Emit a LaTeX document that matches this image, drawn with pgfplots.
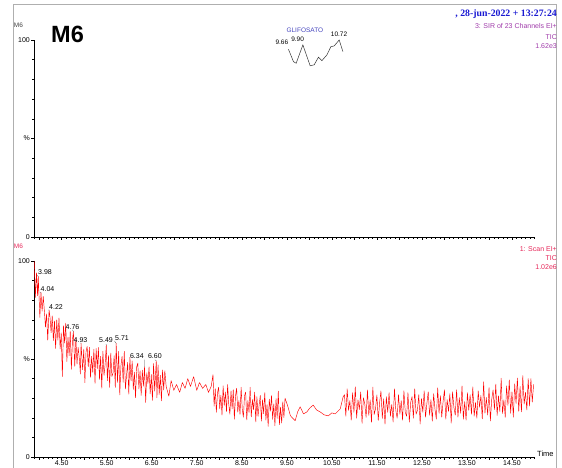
\documentclass[border=0pt]{standalone}
\usepackage{fontspec}
\setmainfont{Liberation Sans}
\newfontfamily\serifbf{Liberation Serif}
\usepackage{pgfplots}
\usepackage{pgfplotstable}
\pgfplotsset{compat=1.18}
\definecolor{datecol}{RGB}{25,25,210}
\definecolor{sircol}{RGB}{160,60,170}
\definecolor{scancol}{RGB}{230,40,90}
\definecolor{glicol}{RGB}{70,70,190}
\definecolor{framecol}{RGB}{175,175,175}

\pgfplotstableread{
t y
9.536 95.3
9.647 89.0
9.707 88.2
9.856 97.5
10.018 86.9
10.107 87.4
10.203 91.3
10.278 89.5
10.389 92.4
10.478 96.6
10.552 97.0
10.663 100
10.745 94.1
}\sirdata

\pgfplotstableread{
t y
3.890 100
3.915 81.4
3.940 94
3.965 82.2
3.980 92
4.015 71.2
4.040 84
4.065 74.4
4.090 82
4.115 74.7
4.140 66.3
4.165 73
4.190 59.6
4.220 75
4.240 71.4
4.265 63.4
4.290 72
4.315 59.4
4.340 69.4
4.365 55.4
4.390 70
4.415 59.6
4.440 71
4.465 55.1
4.490 63.3
4.515 41
4.540 67
4.565 58.1
4.590 68.3
4.615 48.7
4.640 61.2
4.665 51.7
4.690 64.2
4.715 44.7
4.740 60
4.760 64
4.790 46.2
4.815 60.8
4.840 47.4
4.865 56
4.890 50.6
4.915 42.3
4.930 58
4.965 44.5
4.990 55
5.015 37.9
5.040 53.6
5.065 56.4
5.090 46.1
5.115 56
5.140 40.6
5.165 51.4
5.190 43.1
5.215 55
5.240 37.6
5.265 55.4
5.290 45.1
5.315 55.9
5.340 39.6
5.365 51.4
5.390 35.1
5.415 54
5.440 41.6
5.465 47.4
5.490 57
5.515 38.9
5.540 51.7
5.565 35.5
5.590 53
5.615 41.1
5.640 42.9
5.665 51.7
5.690 35.5
5.710 58
5.740 38.1
5.765 53.9
5.790 31.7
5.815 46.5
5.840 51.3
5.865 38.1
5.890 53.9
5.915 34.7
5.940 41.5
5.965 48.3
5.990 32.1
6.015 50.9
6.040 38.8
6.065 49
6.090 34.5
6.115 43.3
6.140 30.2
6.165 46
6.190 47.9
6.215 34.7
6.240 44
6.265 31.4
6.290 44.3
6.315 36.1
6.340 46
6.365 27.8
6.390 43
6.415 37.5
6.440 46
6.465 32.2
6.490 42.1
6.515 28.9
6.540 47.7
6.565 33.6
6.600 49
6.615 30.2
6.640 47
6.665 31.9
6.690 41.7
6.715 28.6
6.740 44.4
6.765 34.2
6.790 44
6.82 36
6.88 31
6.93 39
6.99 34
7.05 37
7.12 33
7.18 38
7.24 35
7.30 40
7.36 36
7.43 41
7.50 34
7.56 38
7.63 35
7.70 37
7.76 33
7.82 36
7.860 42
7.885 25.9
7.910 34.9
7.935 22.8
7.960 32.7
7.985 35.6
8.010 24.6
8.035 31.5
8.060 21.4
8.085 36.3
8.110 26.3
8.135 33.2
8.160 23.1
8.185 37.0
8.210 26.9
8.235 21.8
8.260 33.7
8.285 24.6
8.310 34.4
8.335 19.3
8.360 31.2
8.385 35.1
8.410 22.9
8.435 28.8
8.460 21.7
8.485 35.6
8.510 24.4
8.535 20.3
8.560 31.2
8.585 33.1
8.610 18.9
8.635 28.8
8.660 22.7
8.685 35.6
8.710 20.4
8.735 29.3
8.760 24.2
8.785 33.1
8.810 17.9
8.835 30.8
8.860 20.7
8.885 26.6
8.910 31.4
8.935 18.3
8.960 29.2
8.985 22.1
9.010 32.9
9.035 18.8
9.060 26.7
9.085 15.6
9.110 29.5
9.135 23.4
9.160 31.3
9.185 19.2
9.210 27.1
9.235 15.9
9.260 29.8
9.285 19.7
9.310 33.6
9.335 16.5
9.360 25.4
9.385 17.3
9.410 28.2
9.435 20.1
9.460 30.0
9.52 26
9.58 21
9.685 18.5
9.74 23
9.796 25.6
9.87 22
9.945 23
10.01 25
10.085 26.5
10.16 24
10.24 23
10.33 21.5
10.42 21
10.50 22.5
10.574 22
10.685 24.5
10.75 30.7
10.78 31.8
10.81 20.8
10.84 34.8
10.87 23.8
10.90 28.8
10.93 18.8
10.96 32.8
10.99 22.8
11.02 35.8
11.05 19.8
11.08 29.2
11.11 24.2
11.14 33.2
11.17 17.2
11.20 30.2
11.23 27.2
11.26 20.2
11.29 34.2
11.32 21.2
11.35 29.2
11.38 17.7
11.41 35.7
11.44 21.7
11.47 24.7
11.50 31.7
11.53 18.7
11.56 27.7
11.59 33.7
11.62 19.7
11.65 29.7
11.68 16.8
11.71 30.8
11.74 22.8
11.77 32.8
11.80 20.8
11.83 26.8
11.86 17.8
11.89 34.8
11.92 23.8
11.95 19.8
11.98 31.8
12.01 21.8
12.04 28.8
12.07 18.8
12.10 33.8
12.13 22.8
12.16 20.8
12.19 32.8
12.22 17.8
12.25 27.8
12.28 30.8
12.31 19.8
12.34 34.8
12.37 21.8
12.40 23.8
12.43 31.8
12.46 16.8
12.49 29.8
12.52 22.8
12.55 33.8
12.58 20.3
12.61 27.3
12.64 33.3
12.67 21.3
12.70 29.3
12.73 18.3
12.76 32.3
12.79 24.3
12.82 19.3
12.85 35.3
12.88 22.3
12.91 31.3
12.94 20.3
12.97 28.3
13.00 34.3
13.03 19.3
13.06 29.3
13.09 23.3
13.12 32.3
13.15 17.3
13.18 33.3
13.21 25.3
13.24 21.3
13.27 34.3
13.30 20.3
13.33 30.3
13.36 22.3
13.39 36.3
13.42 19.3
13.45 28.3
13.48 18.8
13.51 32.8
13.54 23.8
13.57 31.8
13.60 21.8
13.63 35.8
13.66 20.8
13.69 27.8
13.72 19.8
13.75 33.8
13.78 25.4
13.81 31.4
13.84 19.4
13.87 38.4
13.90 22.4
13.93 30.4
13.96 21.4
13.99 35.4
14.02 18.4
14.05 29.4
14.08 34.2
14.11 24.2
14.14 37.2
14.17 21.2
14.20 31.2
14.23 23.2
14.26 40.2
14.29 22.2
14.32 29.2
14.35 20.2
14.38 36.3
14.41 26.3
14.44 39.3
14.47 22.3
14.50 33.3
14.53 20.3
14.56 37.3
14.59 27.3
14.62 40.3
14.65 23.3
14.68 36
14.71 23
14.74 41.5
14.77 27
14.80 33
14.83 24
14.86 40
14.89 26
14.92 40
14.95 28
14.98 37
}\ticdata

\pgfplotsset{msax/.style={
  scale only axis, width=500.5pt,
  xmin=3.885, xmax=15.0, ymin=0, ymax=100,
  axis lines=left, axis line style={-, line width=0.5pt},
  tick align=outside, major tick length=3pt, minor tick length=1.8pt,
  tick style={black, line width=0.4pt},
  xtick={4,4.5,5,5.5,6,6.5,7,7.5,8,8.5,9,9.5,10,10.5,11,11.5,12,12.5,13,13.5,14,14.5},
  minor xtick={3.9,4.0,...,15.0},
  ytick={0,50,100}, yticklabels={0,\%,100},
  minor ytick={10,20,30,40,60,70,80,90},
  ticklabel style={font=\fontsize{7}{8}\selectfont},
  yticklabel style={inner sep=1pt},
  xticklabel style={inner sep=0.3pt},
  /pgf/number format/assume math mode=true,
  clip=false,
}}

\begin{document}
\begin{tikzpicture}[x=1pt,y=1pt]
\useasboundingbox (0,0) rectangle (562,468);
\draw[framecol, line width=1pt] (13,-5) -- (13,463) -- (556,463) -- (556,-5);

% top panel
\begin{axis}[msax, at={(34pt,231pt)}, anchor=south west, height=197pt,
  xticklabels={}]
\addplot[black!80, line width=0.5pt] table[x=t,y=y] {\sirdata};
\node[font=\fontsize{6.5}{7}\selectfont, text=glicol] at (axis cs:9.90,105) {GLIFOSATO};
\node[font=\fontsize{6.5}{7}\selectfont, inner sep=0.5pt] at (axis cs:9.39,98.6) {9.66};
\node[font=\fontsize{6.5}{7}\selectfont, inner sep=0.5pt] at (axis cs:9.74,100.4) {9.90};
\node[font=\fontsize{6.5}{7}\selectfont, inner sep=0.5pt] at (axis cs:10.66,102.8) {10.72};
\end{axis}

% bottom panel
\begin{axis}[msax, at={(34pt,11pt)}, anchor=south west, height=196pt,
  xticklabels={{},4.50,{},5.50,{},6.50,{},7.50,{},8.50,{},9.50,{},10.50,{},11.50,{},12.50,{},13.50,{},14.50}]
\addplot[red, line width=0.45pt, line join=round] table[x=t,y=y] {\ticdata};
\begin{scope}[every node/.style={font=\fontsize{7}{8}\selectfont, inner sep=0.6pt}]
\node (a) at (axis cs:4.13,94.4) {3.98};
\node (b) at (axis cs:4.185,85.8) {4.04};
\node (c) at (axis cs:4.374,76.6) {4.22};
\node (d) at (axis cs:4.741,66.5) {4.76};
\node (e) at (axis cs:4.918,59.9) {4.93};
\node (f) at (axis cs:5.485,59.4) {5.49};
\node (g) at (axis cs:5.84,60.9) {5.71};
\node (h) at (axis cs:6.17,51.3) {6.34};
\node (i) at (axis cs:6.57,51.3) {6.60};
\end{scope}
\begin{scope}[black!70, line width=0.3pt]
\draw (a.south west) -- (axis cs:3.98,92);
\draw (b.south west) -- (axis cs:4.04,84);
\draw (c.south west) -- (axis cs:4.22,75);
\draw (d.south) -- (axis cs:4.76,64);
\draw (e.south) -- (axis cs:4.93,58);
\draw (f.south) -- (axis cs:5.49,57);
\draw (g.south west) -- (axis cs:5.71,58);
\draw (h.south east) -- (axis cs:6.34,46);
\draw (i.south) -- (axis cs:6.60,49);
\end{scope}
\end{axis}

% texts
\node[font=\fontsize{6.5}{7}\selectfont, text=black!75] at (18.5,443) {M6};
\node[font=\fontsize{6.5}{7}\selectfont, text=scancol] at (18.5,222) {M6};
\node[font=\bfseries\fontsize{23.5}{24}\selectfont] at (67.5,434) {M6};
\node[anchor=east, inner sep=0pt, font=\serifbf\bfseries\fontsize{9.8}{10}\selectfont, text=datecol] at (557,454) {, 28-jun-2022 + 13:27:24};
\begin{scope}[every node/.style={anchor=east, inner sep=0pt, font=\fontsize{7}{8}\selectfont}]
\node[text=sircol] at (557,442) {3: SIR of 23 Channels EI+};
\node[text=sircol] at (557,431) {TIC};
\node[text=sircol] at (557,422) {1.62e3};
\node[text=scancol] at (557,219) {1: Scan EI+};
\node[text=scancol] at (557,210) {TIC};
\node[text=scancol] at (557,201) {1.02e6};
\end{scope}
\node[anchor=west, inner sep=0pt, font=\fontsize{7.5}{8}\selectfont] at (537,14) {Time};
\end{tikzpicture}
\end{document}
